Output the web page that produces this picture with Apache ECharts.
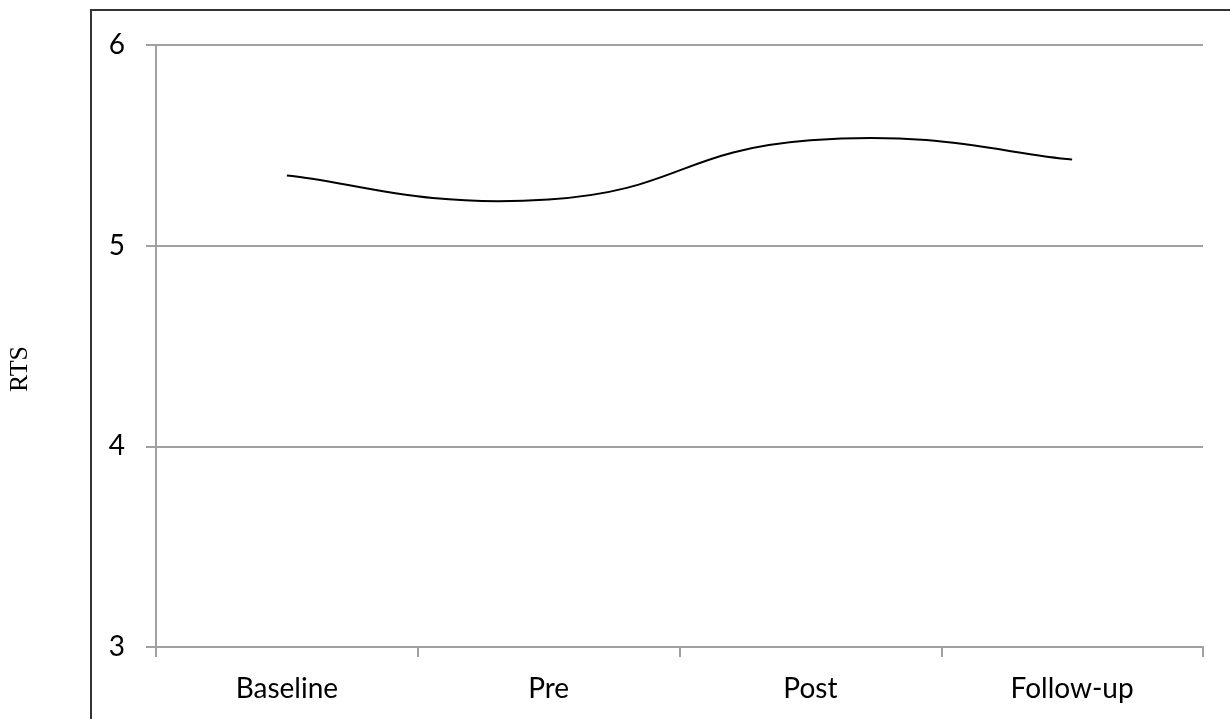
<!DOCTYPE html>
<html>
<head>
<meta charset="utf-8">
<script src="https://cdn.jsdelivr.net/npm/echarts@6/dist/echarts.min.js"></script>
<style>
  html, body { margin: 0; padding: 0; background: #fff; }
  #chart { width: 1230px; height: 719px; }
</style>
</head>
<body>
<div id="chart"></div>
<script>
const categories = ['Baseline', 'Pre', 'Post', 'Follow-up'];
const rtsValues = [5.35, 5.23, 5.525, 5.43];
const yTicks = { min: 3, max: 6, interval: 1 };
const yAxisTitle = 'RTS';

const chart = echarts.init(document.getElementById('chart'), null, { renderer: 'canvas' });
const gridColor = '#a0a0a0';
const font = 'Lato, "Open Sans", sans-serif';
const tension = 0.25; // spreadsheet-style smoothed line

function renderSmooth(params, api) {
  if (params.dataIndex !== 0) return null;
  const pts = rtsValues.map((v, i) => api.coord([i, v]));
  const n = pts.length;
  let d = 'M' + pts[0][0] + ' ' + pts[0][1];
  for (let i = 0; i < n - 1; i++) {
    const p0 = pts[Math.max(i - 1, 0)];
    const p1 = pts[i];
    const p2 = pts[i + 1];
    const p3 = pts[Math.min(i + 2, n - 1)];
    const c1 = [p1[0] + tension * (p2[0] - p0[0]), p1[1] + tension * (p2[1] - p0[1])];
    const c2 = [p2[0] - tension * (p3[0] - p1[0]), p2[1] - tension * (p3[1] - p1[1])];
    d += ' C' + c1[0] + ' ' + c1[1] + ' ' + c2[0] + ' ' + c2[1] + ' ' + p2[0] + ' ' + p2[1];
  }
  return {
    type: 'path',
    shape: { pathData: d },
    style: { fill: null, stroke: '#000', lineWidth: 2 }
  };
}

chart.setOption({
  animation: false,
  backgroundColor: '#ffffff',
  grid: { left: 156, right: 27, top: 45, bottom: 72, containLabel: false },
  xAxis: {
    type: 'category',
    data: categories,
    boundaryGap: true,
    axisLine: { show: true, lineStyle: { color: gridColor, width: 2 } },
    axisTick: { show: true, length: 10, lineStyle: { color: gridColor, width: 2 } },
    axisLabel: { color: '#000', fontSize: 28, fontFamily: font, margin: 28 },
    splitLine: { show: false }
  },
  yAxis: {
    type: 'value',
    min: yTicks.min, max: yTicks.max, interval: yTicks.interval,
    axisLine: { show: true, lineStyle: { color: gridColor, width: 2 } },
    axisTick: { show: true, length: 10, lineStyle: { color: gridColor, width: 2 } },
    axisLabel: { color: '#000', fontSize: 28, fontFamily: font, margin: 31 },
    splitLine: { show: true, lineStyle: { color: gridColor, width: 2 } }
  },
  series: [{
    type: 'custom',
    name: yAxisTitle,
    data: rtsValues.map((v, i) => [i, v]),
    encode: { x: 0, y: 1 },
    renderItem: renderSmooth,
    clip: false
  }],
  graphic: [
    {
      type: 'rect',
      shape: { x: 91, y: 10, width: 1400, height: 1000 },
      style: { fill: 'none', stroke: '#333', lineWidth: 2 },
      silent: true
    },
    {
      type: 'text',
      x: 20, y: 369,
      rotation: Math.PI / 2,
      style: {
        text: yAxisTitle,
        fill: '#000',
        font: '26px "Liberation Serif", "Times New Roman", serif',
        align: 'center',
        verticalAlign: 'middle'
      },
      silent: true
    }
  ]
});
</script>
</body>
</html>
